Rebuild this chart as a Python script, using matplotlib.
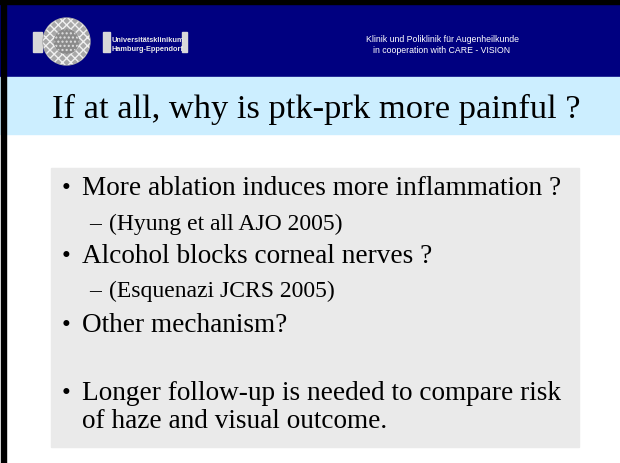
import matplotlib
matplotlib.use("Agg")
import matplotlib.pyplot as plt
from matplotlib.patches import Rectangle, Circle
import numpy as np

# ---- content ----
header_lines = ["Klinik und Poliklinik für Augenheilkunde",
                "in cooperation with CARE - VISION"]
logo_lines = ["Universitätsklinikum", "Hamburg-Eppendorf"]
title = "If at all, why is ptk-prk more painful ?"
bullets = [
    (0, "More ablation induces more inflammation ?"),
    (1, "(Hyung et all AJO 2005)"),
    (0, "Alcohol blocks corneal nerves ?"),
    (1, "(Esquenazi JCRS 2005)"),
    (0, "Other mechanism?"),
    (0, "Longer follow-up is needed to compare risk"),
    (2, "of haze and visual outcome."),
]
baselines = [195, 230, 263, 297, 332, 400, 428]

W, H = 620, 464
fig = plt.figure(figsize=(W / 100, H / 100), dpi=100)
ax = fig.add_axes([0, 0, 1, 1])
ax.set_xlim(0, W)
ax.set_ylim(H, 0)
ax.axis("off")

serif = ["Liberation Serif", "DejaVu Serif"]
sans = ["Liberation Sans", "DejaVu Sans"]

# background
ax.add_patch(Rectangle((0, 0), W, H, color="white", zorder=0))
# navy header
ax.add_patch(Rectangle((0, 0), W, 78, color="#000080", zorder=1))
# light blue title band
ax.add_patch(Rectangle((0, 78), W, 57, color="#CCEEFF", zorder=1))
# black borders
ax.add_patch(Rectangle((0, 0), W, 5, color="black", zorder=3))
ax.add_patch(Rectangle((1, 0), 5, H, color="black", zorder=3))

# logo
ax.add_patch(Rectangle((33, 33), 9, 20, color="#d8d8d8", zorder=2))
ax.add_patch(Circle((66.5, 42.5), 23.5, color="#a8a8a8", zorder=2))
ax.add_patch(Circle((66.5, 42.5), 23.5, fill=False, hatch="xxxx",
                    edgecolor="#f0f0f0", lw=0, zorder=2))
ax.add_patch(Circle((66.5, 42.5), 12, color="#8a8a8a", zorder=2))
ax.add_patch(Circle((66.5, 42.5), 12, fill=False, hatch="....",
                    edgecolor="#e0e0e0", lw=0, zorder=2))
ax.add_patch(Rectangle((103, 33), 7, 20, color="#d8d8d8", zorder=2))
ax.add_patch(Rectangle((182, 33), 5, 20, color="#d8d8d8", zorder=2))
for i, t in enumerate(logo_lines):
    ax.text(112, 42 + i * 9, t, color="#e8e8e8", fontsize=5.3,
            fontweight="bold", family=sans, va="baseline", ha="left",
            zorder=4)

# header text
for i, t in enumerate(header_lines):
    ax.text(442, 42 + i * 11, t, color="white", fontsize=6.3,
            family=sans, va="baseline", ha="center", zorder=4)

# title
ax.text(52, 118, title, fontsize=24.8, family=serif, va="baseline",
        ha="left", color="black", zorder=4)

# gray content box
ax.add_patch(Rectangle((51, 169), 528, 279, color="#EAEAEA", zorder=1))

for (lvl, t), yb in zip(bullets, baselines):
    if lvl == 0:
        ax.text(62, yb, "\u2022", fontsize=18, family=serif,
                va="baseline", ha="left", zorder=4)
        ax.text(82, yb, t, fontsize=19.6, family=serif, va="baseline",
                ha="left", zorder=4)
    elif lvl == 1:
        ax.text(89, yb, "\u2013", fontsize=17, family=serif,
                va="baseline", ha="left", zorder=4)
        ax.text(109, yb, t, fontsize=17, family=serif, va="baseline",
                ha="left", zorder=4)
    else:
        ax.text(82, yb, t, fontsize=19.6, family=serif, va="baseline",
                ha="left", zorder=4)

fig.savefig("out.png", dpi=100)
